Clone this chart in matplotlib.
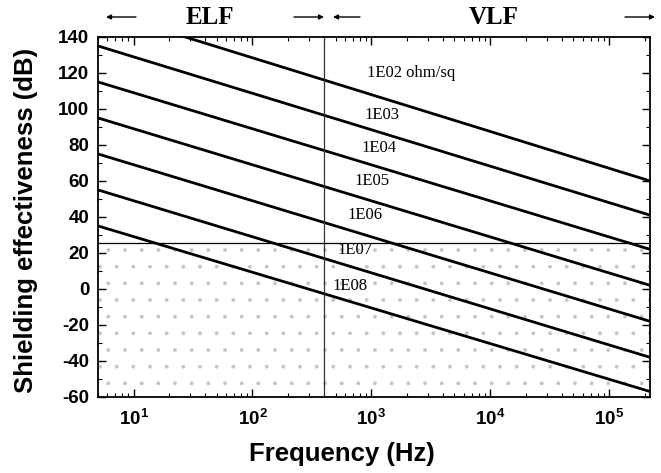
import numpy as np
import matplotlib
matplotlib.use('Agg')
from matplotlib import pyplot as plt
from matplotlib.ticker import MultipleLocator, FixedLocator, FixedFormatter, LogLocator, NullFormatter

# frequency span of the drawn lines (Hz)
freq_ends = [5, 2.2e5]
# shielding effectiveness at the two ends (dB), one pair per surface resistivity
se_left = [155, 135, 115, 95, 75, 55, 35]
se_right = [60, 41, 22, 2, -18, -38, -57]
line_labels = ['1E02 ohm/sq', '1E03', '1E04', '1E05', '1E06', '1E07', '1E08']
label_freq = [919, 883, 834, 728, 624, 524, 475]
label_se = [120, 96.7, 78.3, 60, 41.1, 21.7, 1.7]

elf_vlf_boundary = 400
noise_floor = 25.5

xticks = [10, 100, 1000, 10000, 100000]
xtick_labels = [r'$\mathbf{10^{1}}$', r'$\mathbf{10^{2}}$', r'$\mathbf{10^{3}}$',
                r'$\mathbf{10^{4}}$', r'$\mathbf{10^{5}}$']

plt.rcParams['font.family'] = ['Liberation Sans', 'DejaVu Sans']
plt.rcParams['mathtext.fontset'] = 'custom'
plt.rcParams['mathtext.bf'] = 'Liberation Sans:bold'
plt.rcParams['mathtext.rm'] = 'Liberation Sans:bold'
plt.rcParams['axes.unicode_minus'] = False
plt.rcParams['hatch.linewidth'] = 0.3

fig = plt.figure(figsize=(6.61, 4.73), dpi=100)
ax = fig.add_axes([0.148, 0.161, 0.835, 0.761])

# stippled region below the horizontal line
ax.fill_between(freq_ends, -60, noise_floor, facecolor='none',
                edgecolor='#c4c4c4', hatch='.', linewidth=0)

for lo, hi in zip(se_left, se_right):
    ax.plot(freq_ends, [lo, hi], color='black', lw=2.0, solid_capstyle='butt')

ax.axvline(elf_vlf_boundary, color='#333333', lw=0.9)
ax.axhline(noise_floor, color='black', lw=0.9)

for lab, f, s in zip(line_labels, label_freq, label_se):
    ax.text(f, s, lab, family='Liberation Serif', fontsize=12,
            ha='left', va='center')

ax.set_xscale('log')
ax.set_xlim(freq_ends)
ax.set_ylim(-60, 140)
ax.xaxis.set_major_locator(FixedLocator(xticks))
ax.xaxis.set_major_formatter(FixedFormatter(xtick_labels))
ax.xaxis.set_minor_locator(LogLocator(base=10, subs=np.arange(2, 10)))
ax.xaxis.set_minor_formatter(NullFormatter())
ax.yaxis.set_major_locator(MultipleLocator(20))
ax.yaxis.set_minor_locator(MultipleLocator(10))

ax.tick_params(which='both', direction='in', top=True, right=True)
ax.tick_params(which='major', length=6, width=1)
ax.tick_params(which='minor', length=3, width=0.8)
ax.tick_params(axis='y', labelsize=13.5, pad=6)
ax.tick_params(axis='x', labelsize=13.5, pad=9)
for lab in ax.get_yticklabels():
    lab.set_fontweight('bold')
for sp in ax.spines.values():
    sp.set_linewidth(1.3)

ax.set_xlabel('Frequency (Hz)', fontsize=18.5, fontweight='bold')
ax.xaxis.set_label_coords(0.442, -0.125)
ax.set_ylabel('Shielding effectiveness (dB)', fontsize=18.5, fontweight='bold')
ax.yaxis.set_label_coords(-0.108, 0.49)

# band markers above the plot
serif = dict(family='Liberation Serif', fontsize=18, fontweight='bold',
             ha='center', va='center')
fig.text(210 / 661, 1 - 17 / 473, 'ELF', **serif)
fig.text(494 / 661, 1 - 17 / 473, 'VLF', **serif)
arrows = [(136, 106), (294, 324), (360, 333), (625, 655)]
for x0, x1 in arrows:
    ax.annotate('', xy=(x1 / 661, 1 - 17 / 473), xytext=(x0 / 661, 1 - 17 / 473),
                xycoords='figure fraction', textcoords='figure fraction',
                arrowprops=dict(arrowstyle='-|>', color='black', lw=1.0,
                                mutation_scale=7, shrinkA=0, shrinkB=0))

fig.savefig('out.png', dpi=100)
